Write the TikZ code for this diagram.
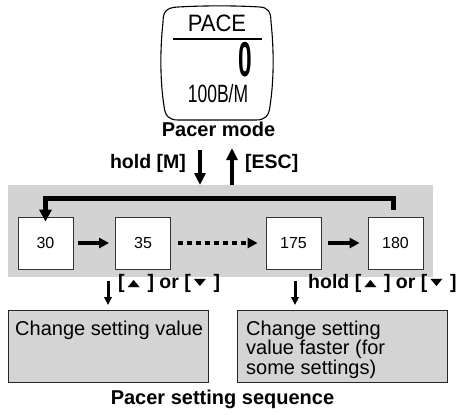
\documentclass[tikz,border=0pt]{standalone}
\usepackage{fontspec}
\setmainfont{Liberation Sans}
\newfontfamily\symfont{DejaVu Sans}
\usetikzlibrary{arrows.meta,positioning,calc}
\definecolor{bandgrey}{RGB}{211,211,211}
\definecolor{boxgrey}{RGB}{212,212,212}
\tikzset{
  valbox/.style={draw=black!80, fill=white, line width=0.8pt, minimum width=55pt, minimum height=52pt, inner sep=0pt, font=\fontsize{16}{16}\selectfont},
  flow/.style={line width=4pt, arrows={-Triangle[length=10pt,width=10pt]}},
  key/.style={line width=3pt, arrows={-Triangle[length=8pt,width=7.5pt]}},
  keylabel/.style={anchor=base west, inner sep=0pt, font=\bfseries\fontsize{19.5}{19.5}\selectfont},
  infobox/.style={draw=black!85, fill=boxgrey, line width=1.2pt, minimum height=72pt, inner sep=0pt, anchor=north west},
  boxtext/.style={anchor=north west, inner sep=0pt, align=left, font=\fontsize{20}{17.5}\selectfont},
  lcd/.style={inner sep=0pt, anchor=base},
}
\newcommand{\keyup}{\hspace{3pt}\raisebox{1.5pt}{\symfont\fontsize{16}{16}\selectfont\scalebox{1}[0.6]{▲}}\hspace{7.5pt}}
\newcommand{\keydown}{\hspace{3pt}\raisebox{2.5pt}{\symfont\fontsize{16}{16}\selectfont\scalebox{1}[0.6]{▼}}\hspace{7.5pt}}
\begin{document}
\begin{tikzpicture}[x=1pt,y=-1pt]
\useasboundingbox (0,0) rectangle (462,414);
% watch display
\draw[line width=1.1pt] (178,7) .. controls (205,5.5) and (235,5.5) .. (260,7)
  .. controls (268,7.5) and (271,12) .. (271,22)
  .. controls (274,50) and (274,80) .. (270,106)
  .. controls (269,116) and (265,120) .. (256,120)
  -- (178,120)
  .. controls (169,120) and (165,116) .. (164,106)
  .. controls (160,80) and (160,50) .. (163,22)
  .. controls (163,12) and (166,7.5) .. cycle;
\node[lcd, font=\fontsize{23.7}{24}\selectfont] (pace) at (217,32) {\scalebox{0.93}[1]{PACE}};
\draw[line width=2pt] (173,39) -- (262,39);
\node[lcd, font=\bfseries\fontsize{49}{49}\selectfont] (pace val) at (245.5,77) {\scalebox{0.5}[1]{0}};
\node[lcd, font=\fontsize{25}{25}\selectfont] (rate) at (218,103) {\scalebox{0.7}[1]{100B/M}};
\node[lcd, font=\bfseries\fontsize{20}{20}\selectfont] (mode) at (218.5,136) {Pacer mode};

% enter / leave
\coordinate (hold top) at (200,150);
\coordinate (esc top) at (232,148);
\node[fill=bandgrey, minimum width=425pt, minimum height=92pt, inner sep=0pt, anchor=north west] (band) at (8,185) {};
\draw[flow, arrows={-Triangle[length=12pt,width=11pt]}] (hold top) -- (hold top |- band.north);
\draw[flow, arrows={-Triangle[length=12pt,width=11pt]}] (esc top |- band.north) -- (esc top);
\node[keylabel, anchor=base east] (hold m) at (186,168) {hold [M]};
\node[keylabel] (esc) at (245,168) {[ESC]};

% sequence
\node[valbox] (v30) at (45.5,243) {30};
\node[valbox] (v35) at (143,243) {35};
\node[valbox] (v175) at (293.5,243) {175};
\node[valbox] (v180) at (395.5,243) {180};
\draw[flow] ([xshift=5pt]v30.east) -- ([xshift=-6pt]v35.west);
\draw[flow, dash pattern=on 5pt off 4pt] ([xshift=7pt]v35.east) -- ([xshift=-8pt]v175.west);
\draw[flow] ([xshift=7pt]v175.east) -- ([xshift=-8pt]v180.west);
\draw[flow, line width=5pt, arrows={-Triangle[length=12pt,width=12pt]}] ([xshift=-2.5pt,yshift=7pt]v180.north) -- ++(0,-11) -| ([yshift=-5pt]v30.north);

% changing values
\coordinate (slow top) at (108,281);
\coordinate (fast top) at (295,281);
\node[infobox, minimum width=200pt] (slow box) at (8,310) {};
\node[infobox, minimum width=210pt] (fast box) at (237,310) {};
\draw[key] (slow top) -- ([yshift=5pt]slow top |- slow box.north);
\draw[key] (fast top) -- ([yshift=5pt]fast top |- fast box.north);
\node[keylabel] (slow label) at (118,288) {[\keyup] or [\keydown]};
\node[keylabel] (fast label) at (308,288) {hold [\keyup] or [\keydown]};
\node[boxtext] (slow text) at ([xshift=7pt,yshift=-10.5pt]slow box.north west) {Change setting value};
\node[boxtext] (fast text) at ([xshift=9pt,yshift=-10.5pt]fast box.north west) {Change setting\\value faster (for\\some settings)};

\node[lcd, font=\bfseries\fontsize{20}{20}\selectfont] (caption) at (222.5,404) {Pacer setting sequence};
\end{tikzpicture}
\end{document}
